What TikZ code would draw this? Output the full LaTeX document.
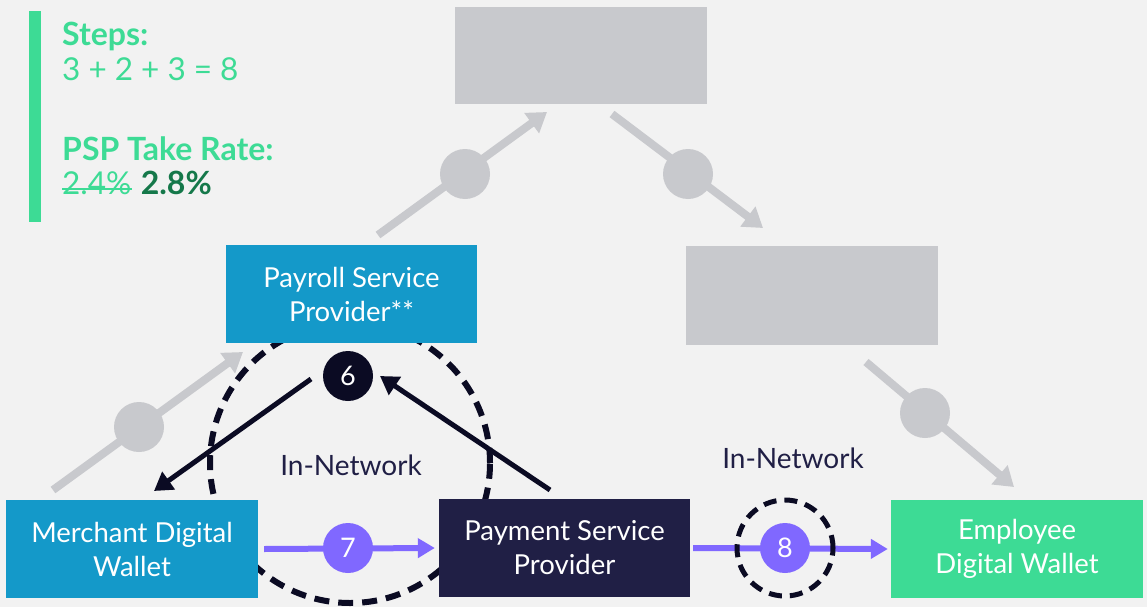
\documentclass[tikz,border=0pt]{standalone}
\usepackage{fontspec}
\setmainfont{Lato}
\usetikzlibrary{arrows.meta}
\definecolor{bg}{HTML}{F2F2F2}
\definecolor{greyc}{HTML}{C8C9CD}
\definecolor{bluec}{HTML}{1499C9}
\definecolor{navyc}{HTML}{201F45}
\definecolor{greenc}{HTML}{3DDB95}
\definecolor{darkgreen}{HTML}{15784A}
\definecolor{blackc}{HTML}{0B0B23}
\definecolor{purplec}{HTML}{8068FF}
\tikzset{
  box/.style={rectangle, minimum width=251pt, minimum height=98pt, inner sep=0pt, text=white, align=center, font=\fontsize{27.5}{34}\selectfont},
  greyarrow/.style={draw=greyc, line width=8pt, -{Triangle[width=24pt,length=19pt]}},
  greydot/.style={circle, fill=greyc, minimum size=50pt, inner sep=0pt},
  blackarrow/.style={draw=blackc, line width=5pt, -{Triangle[width=21pt,length=18pt]}},
  purplearrow/.style={draw=purplec, line width=6pt, -{Triangle[width=19pt,length=17pt]}},
  numdot/.style={circle, minimum size=50pt, inner sep=0pt, text=white, font=\fontsize{27}{30}\selectfont},
  dashring/.style={draw=blackc, line width=6pt, dash pattern=on 15pt off 9pt},
  netlabel/.style={text=navyc, font=\fontsize{28}{30}\selectfont, anchor=base},
  sidetext/.style={text=greenc, anchor=base west, inner sep=0pt, font=\fontsize{31.5}{34}\selectfont},
  sidebold/.style={sidetext, font=\fontsize{32}{34}\selectfont\bfseries},
}
\begin{document}
\begin{tikzpicture}[x=1pt,y=-1pt]
\useasboundingbox (0,0) rectangle (1147,607);
\fill[bg] (0,0) rectangle (1147,607);
% side panel
\fill[greenc] (29,11) rectangle (41,222);
\node[sidebold] (steps) at (62,46) {Steps:};
\node[sidetext] (stepsum) at (62,81) {3 + 2 + 3 = 8};
\node[sidebold] (psp) at (62,160) {PSP Take Rate:};
\node[sidetext] (old) at (62,194) {2.4\%};
\node[sidebold, text=darkgreen] (new) at ([xshift=9pt]old.base east) {2.8\%};
\draw[greenc, line width=2.5pt] ([yshift=5pt]old.base west) -- ([yshift=5pt]old.base east);
% grey boxes
\node[box, fill=greyc, minimum width=252pt, minimum height=97pt] (top) at (581,55.5) {};
\node[box, fill=greyc, minimum width=252pt, minimum height=99pt] (right) at (812,295.5) {};
% grey arrows
\coordinate (g1a) at (53,490); \coordinate (g1b) at (243,352);
\coordinate (g2a) at (378,235); \coordinate (g2b) at (547,112);
\coordinate (g3a) at (612,114); \coordinate (g3b) at (763,228);
\coordinate (g4a) at (866,362); \coordinate (g4b) at (1014,487);
\draw[greyarrow] (g1a) -- (g1b);
\draw[greyarrow] (g2a) -- (g2b);
\draw[greyarrow] (g3a) -- (g3b);
\draw[greyarrow] (g4a) -- (g4b);
\node[greydot] (gd1) at (139,427) {};
\node[greydot] (gd2) at (465,174) {};
\node[greydot] (gd3) at (688,174) {};
\node[greydot] (gd4) at (925,413) {};
% big dashed ring
\coordinate (ring) at (350,463);
\draw[dashring] (ring) circle[radius=140pt];
% boxes
\node[box, fill=bluec] (payroll) at (351.5,294) {Payroll Service\\Provider**};
\node[box, fill=bluec, minimum width=252pt] (merchant) at (132,549) {Merchant Digital\\Wallet};
\node[box, fill=navyc] (pspbox) at (564.5,548) {Payment Service\\Provider};
\node[box, fill=greenc, minimum width=252pt] (employee) at (1017,549) {Employee\\Digital Wallet};
% step 6
\node[numdot, fill=blackc] (six) at (348,376) {6};
\coordinate (b1a) at (311,379); \coordinate (b1b) at (154,491);
\coordinate (b2a) at (550,490); \coordinate (b2b) at (380,376);
\draw[blackarrow] (b1a) -- (b1b);
\draw[blackarrow] (b2a) -- (b2b);
% step 7
\draw[purplearrow] ([xshift=6pt]merchant.east) -- ([xshift=-4pt]pspbox.west);
\node[numdot, fill=purplec] (seven) at (348,548) {7};
% step 8
\draw[purplearrow] ([xshift=3pt]pspbox.east) -- ([xshift=-3pt]employee.west);
\node[numdot, fill=purplec] (eight) at (785,548) {8};
\draw[dashring, line width=5pt, dash pattern=on 13pt off 8pt] (eight.center) circle[radius=48pt];
% labels
\node[netlabel] (net1) at (351,475) {In-Network};
\node[netlabel] (net2) at (793,468) {In-Network};
\end{tikzpicture}
\end{document}
